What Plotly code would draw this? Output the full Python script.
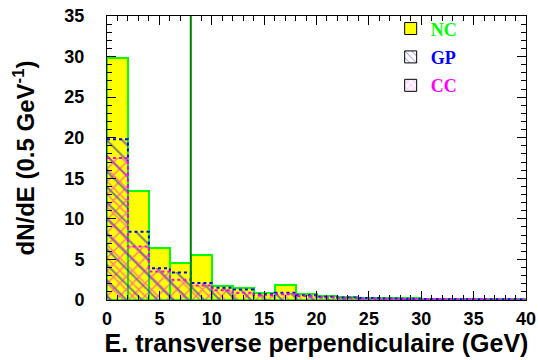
import plotly.graph_objects as go

# histogram contents, 2 GeV bins from 0 to 40
bin_edges = [2 * i for i in range(21)]
nc_counts = [29.8, 13.4, 6.4, 4.5, 5.6, 1.7, 1.5, 0.9, 1.9, 0.7, 0.45, 0.35, 0.3, 0.25, 0.2, 0.15, 0.15, 0.1, 0.1, 0.1]
gp_counts = [19.8, 8.4, 3.9, 3.4, 2.1, 1.5, 1.3, 0.7, 0.9, 0.6, 0.4, 0.3, 0.25, 0.2, 0.15, 0.12, 0.1, 0.1, 0.08, 0.08]
cc_counts = [17.5, 6.6, 3.5, 2.5, 1.8, 1.2, 0.9, 0.6, 0.7, 0.5, 0.3, 0.25, 0.2, 0.15, 0.12, 0.1, 0.08, 0.08, 0.06, 0.06]
cut_value = 8
x_ticks = [0, 5, 10, 15, 20, 25, 30, 35, 40]
y_ticks = [0, 5, 10, 15, 20, 25, 30, 35]

centers = [(bin_edges[i] + bin_edges[i + 1]) / 2 for i in range(len(bin_edges) - 1)]

fig = go.Figure()

# NC: yellow fill, green outline
fig.add_trace(go.Bar(x=centers, y=nc_counts, width=2, showlegend=False,
                     marker=dict(color='#ffff00', line=dict(color='#00ff00', width=2))))
# GP: blue hatching
fig.add_trace(go.Bar(x=centers, y=gp_counts, width=2, showlegend=False,
                     marker=dict(color='rgba(0,0,0,0)', line=dict(width=0),
                                 pattern=dict(shape='\\', fgcolor='#0000ff', size=11, solidity=0.18))))
# CC: magenta cross hatching
fig.add_trace(go.Bar(x=centers, y=cc_counts, width=2, showlegend=False,
                     marker=dict(color='rgba(0,0,0,0)', line=dict(width=0),
                                 pattern=dict(shape='x', fgcolor='#ff00ff', size=9, solidity=0.3))))

# dotted step outlines
def step(counts):
    return bin_edges, list(counts) + [counts[-1]]

sx, sy = step(gp_counts)
fig.add_trace(go.Scatter(x=sx, y=sy, mode='lines', line=dict(shape='hv', color='#0000ff', width=2, dash='dot'),
                         showlegend=False, hoverinfo='skip'))
sx, sy = step(cc_counts)
fig.add_trace(go.Scatter(x=sx, y=sy, mode='lines', line=dict(shape='hv', color='#ff00ff', width=2, dash='dot'),
                         showlegend=False, hoverinfo='skip'))

# legend entries
fig.add_trace(go.Bar(x=[None], y=[None], name='<span style="color:#00ff00">NC</span>', legendgroup='a',
                     marker=dict(color='#ffff00', line=dict(color='black', width=1))))
fig.add_trace(go.Bar(x=[None], y=[None], name='<span style="color:#0000ff">GP</span>', legendgroup='b',
                     marker=dict(color='white', line=dict(color='black', width=1),
                                 pattern=dict(shape='\\', fgcolor='#0000ff', bgcolor='white', size=6))))
fig.add_trace(go.Bar(x=[None], y=[None], name='<span style="color:#ff00ff">CC</span>', legendgroup='c',
                     marker=dict(color='white', line=dict(color='black', width=1),
                                 pattern=dict(shape='x', fgcolor='#ff00ff', bgcolor='white', size=6))))

fig.add_vline(x=cut_value, line=dict(color='#008000', width=2))

axis_common = dict(showline=True, linecolor='black', linewidth=1, mirror='allticks',
                   ticks='inside', ticklen=9, tickcolor='black', showgrid=False, zeroline=False,
                   automargin=False,
                   tickfont=dict(family='Liberation Sans', size=18, color='black', weight='bold'),
                   minor=dict(ticks='inside', ticklen=5, tickcolor='black', dtick=1))

fig.update_xaxes(range=[0, 40], tickvals=x_ticks, **axis_common, ticklabelstandoff=2,
                 title=dict(text='E. transverse perpendiculaire (GeV)', standoff=4,
                            font=dict(family='Liberation Sans', size=25, color='black', weight='bold')))
fig.update_yaxes(range=[0, 35], tickvals=y_ticks, **axis_common, ticklabelstandoff=18,
                 title=dict(text='dN/dE (0.5 GeV<sup>-1</sup>)', standoff=22,
                            font=dict(family='Liberation Sans', size=24, color='black', weight='bold')))

fig.update_layout(width=538, height=360, barmode='overlay', bargap=0,
                  plot_bgcolor='white', paper_bgcolor='white',
                  margin=dict(l=107, r=12, t=10, b=60),
                  legend=dict(x=0.677, y=1.02, xanchor='left', yanchor='top', tracegroupgap=2,
                              bgcolor='rgba(0,0,0,0)',
                              font=dict(family='Liberation Serif', size=18, weight='bold')))

# drop the default page margin so the figure sits at the window corner
fig.write_html("out.html", config={'displayModeBar': False},
               post_script="document.body.style.margin='0';")
